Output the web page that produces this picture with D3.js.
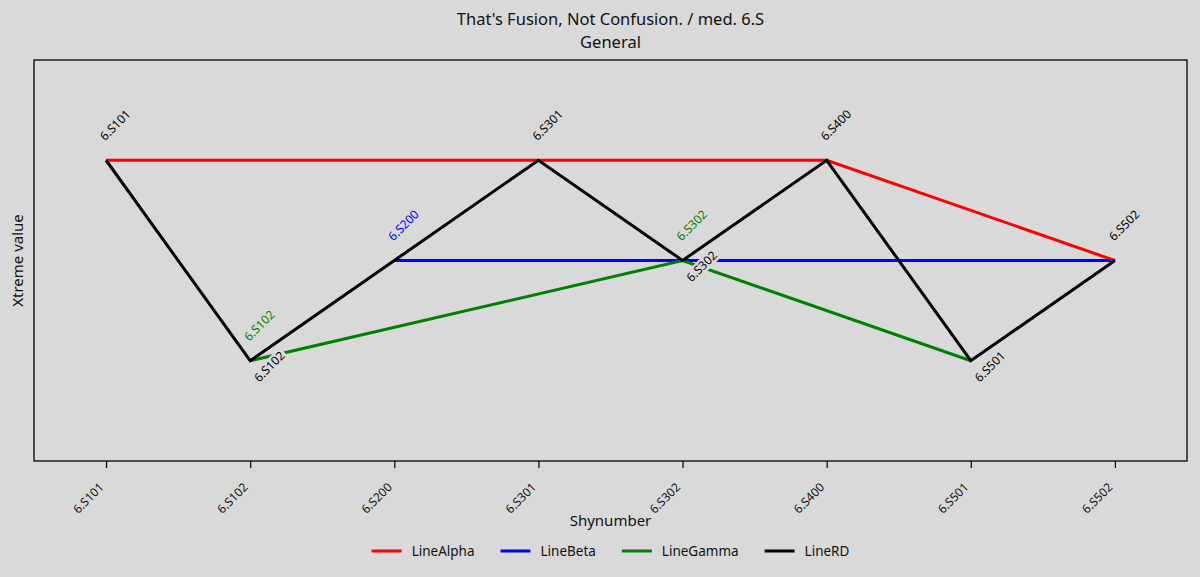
<!DOCTYPE html>
<html>
<head>
<meta charset="utf-8">
<script src="https://cdn.jsdelivr.net/npm/d3@7"></script>
<style>
  html, body { margin: 0; padding: 0; background: #d9d9d9; }
  svg { display: block; font-family: "Noto Sans", sans-serif; }
</style>
</head>
<body>
<svg id="chart" width="1200" height="577"></svg>
<script>
// ---- data ----
const categories = ["6.S101", "6.S102", "6.S200", "6.S301", "6.S302", "6.S400", "6.S501", "6.S502"];
const seriesNames = ["LineAlpha", "LineBeta", "LineGamma", "LineRD"];
const seriesColors = ["#ff0000", "#0000ff", "#008000", "#000000"];
const alphaX = ["6.S101", "6.S400", "6.S502"];
const alphaY = [3, 3, 2];
const betaX = ["6.S200", "6.S302", "6.S502"];
const betaY = [2, 2, 2];
const gammaX = ["6.S102", "6.S302", "6.S501"];
const gammaY = [1, 2, 1];
const rdX = ["6.S101", "6.S102", "6.S301", "6.S302", "6.S400", "6.S501", "6.S502"];
const rdY = [3, 1, 3, 2, 3, 1, 2];
// point labels: [series index, category, "above"/"below"]
const pointLabels = [
  [1, "6.S200", "above"],
  [2, "6.S102", "above"],
  [2, "6.S302", "above"],
  [3, "6.S101", "above"],
  [3, "6.S102", "below"],
  [3, "6.S301", "above"],
  [3, "6.S302", "below"],
  [3, "6.S400", "above"],
  [3, "6.S501", "below"],
  [3, "6.S502", "above"]
];
const titleLines = ["That's Fusion, Not Confusion. / med. 6.S", "General"];
const xTitle = "Shynumber";
const yTitle = "Xtreme value";

(function () {
const seriesX = [alphaX, betaX, gammaX, rdX];
const seriesY = [alphaY, betaY, gammaY, rdY];

// ---- layout ----
const W = 1200, H = 577;
const mLeft = 34, mRight = 1187, mTop = 60, mBottom = 461;
const bg = "#d9d9d9";
const svg = d3.select("#chart");
svg.append("rect").attr("width", W).attr("height", H).attr("fill", bg);

const x = d3.scalePoint().domain(categories).range([mLeft, mRight]).padding(0.5);
const y = d3.scaleLinear().domain([0, 4]).range([mBottom, mTop]);

// frame
svg.append("rect").attr("x", mLeft).attr("y", mTop)
  .attr("width", mRight - mLeft).attr("height", mBottom - mTop)
  .attr("fill", "none").attr("stroke", "#000").attr("stroke-width", 1.3);

// x axis
const xAxis = svg.append("g").attr("transform", `translate(0,${mBottom})`)
  .call(d3.axisBottom(x).tickSize(7).tickPadding(3));
xAxis.select(".domain").remove();
xAxis.selectAll(".tick line").attr("stroke", "#000").attr("stroke-width", 1.2);
xAxis.selectAll(".tick text")
  .attr("font-family", "Noto Sans").attr("font-size", 12).attr("fill", "#111")
  .attr("text-anchor", "end").attr("dy", null).attr("y", null)
  .attr("transform", "translate(-2,27) rotate(-45)");

// lines
const line = d3.line().x(d => x(d[0])).y(d => y(d[1]));
seriesNames.forEach((name, i) => {
  const pts = seriesX[i].map((c, j) => [c, seriesY[i][j]]);
  svg.append("path").datum(pts).attr("d", line)
    .attr("fill", "none").attr("stroke", seriesColors[i])
    .attr("stroke-width", 3).attr("stroke-linejoin", "miter");
});

// point labels (with background box rotated with the text)
pointLabels.forEach(([si, cat, pos]) => {
  const idx = seriesX[si].indexOf(cat);
  const px = x(cat), py = y(seriesY[si][idx]);
  const sx = pos === "above" ? px - 1 : px + 9;
  const sy = pos === "above" ? py - 19 : py + 22;
  const g = svg.append("g").attr("transform", `translate(${sx},${sy}) rotate(-45)`);
  const box = g.append("rect").attr("fill", bg);
  const t = g.append("text").text(cat)
    .attr("font-size", 12).attr("fill", seriesColors[si])
    .attr("text-anchor", "start");
  const L = t.node().getComputedTextLength();
  box.attr("x", -2).attr("y", -11).attr("width", L + 4).attr("height", 14);
});

// titles
const cx = (mLeft + mRight) / 2;
svg.append("text").text(titleLines[0]).attr("x", cx).attr("y", 25)
  .attr("text-anchor", "middle").attr("font-size", 16.5).attr("fill", "#111");
svg.append("text").text(titleLines[1]).attr("x", cx).attr("y", 48)
  .attr("text-anchor", "middle").attr("font-size", 16.5).attr("fill", "#111");
svg.append("text").text(xTitle).attr("x", cx).attr("y", 526)
  .attr("text-anchor", "middle").attr("font-size", 15).attr("fill", "#111");
svg.append("text").text(yTitle)
  .attr("transform", `translate(23,${(mTop + mBottom) / 2}) rotate(-90)`)
  .attr("text-anchor", "middle").attr("font-size", 15).attr("fill", "#111");

// legend
const legend = svg.append("g");
let lx = 0;
seriesNames.forEach((name, i) => {
  const g = legend.append("g").attr("transform", `translate(${lx},0)`);
  g.append("line").attr("x1", 0).attr("x2", 30).attr("y1", 0).attr("y2", 0)
    .attr("stroke", seriesColors[i]).attr("stroke-width", 3);
  const t = g.append("text").text(name).attr("x", 40).attr("y", 5)
    .attr("font-size", 13.5).attr("fill", "#111");
  lx += 40 + t.node().getComputedTextLength() + 26;
});
const totalW = lx - 26;
legend.attr("transform", `translate(${cx - totalW / 2},551)`);
})();
</script>
</body>
</html>
